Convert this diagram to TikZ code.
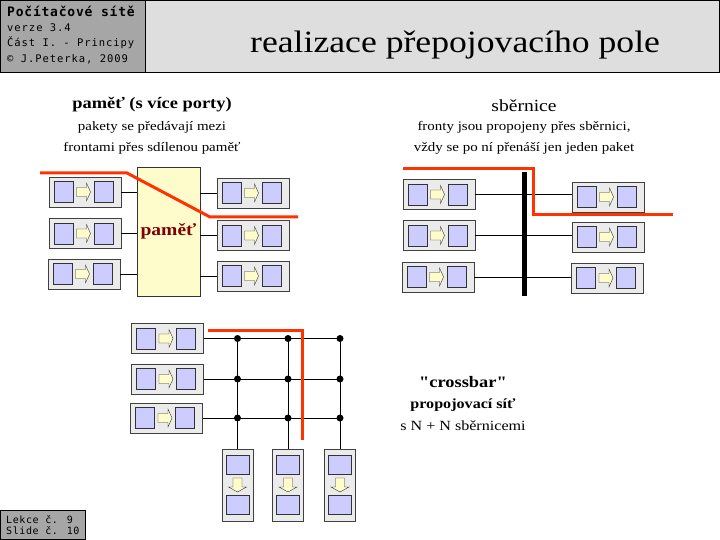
\documentclass[tikz,border=0pt]{standalone}
\usepackage{fontspec}
\setmainfont[FakeStretch=1.15]{Liberation Serif}
\newfontfamily\hlavafont[LetterSpace=6]{DejaVu Sans Mono}
\newfontfamily\infofont[LetterSpace=9]{DejaVu Sans Mono}
\newfontfamily\patafont[LetterSpace=6]{DejaVu Sans Mono}
\usetikzlibrary{positioning}
\definecolor{cesta}{RGB}{255,51,0}
\definecolor{pametcol}{RGB}{128,0,0}

% fronta vodorovne: jmeno, x, y
\newcommand{\fronta}[3]{%
\node[fronta] (#1) at (#2,#3) {};
\node[buf] (#1-a) at ({#2-21.5},#3) {};
\node[buf] (#1-b) at ({#2+18.5},#3) {};
\path[sipka,shift={(#2,#3)}] (-8.5,-4.5) -- (1.5,-4.5) -- (1.5,-9) -- (5.5,0) -- (1.5,9) -- (1.5,4.5) -- (-8.5,4.5) -- cycle;
}
% fronta svisle: jmeno, x, y
\newcommand{\frontav}[3]{%
\node[frontav] (#1) at (#2,#3) {};
\node[bufv] (#1-a) at (#2,{#3-20.5}) {};
\node[bufv] (#1-b) at (#2,{#3+19.5}) {};
\path[sipka,shift={(#2,#3)}] (-4.5,-7) -- (4.5,-7) -- (4.5,2) -- (9,2) -- (0,7) -- (-9,2) -- (-4.5,2) -- cycle;
}

\begin{document}
\begin{tikzpicture}[x=1pt,y=-1pt,
  fronta/.style={draw=black!75, fill=black!8, minimum width=72pt, minimum height=30pt, inner sep=0pt},
  frontav/.style={draw=black!75, fill=black!8, minimum width=31pt, minimum height=72pt, inner sep=0pt},
  buf/.style={draw=black!80, fill=blue!20, minimum width=19pt, minimum height=21pt, inner sep=0pt},
  bufv/.style={draw=black!80, fill=blue!20, minimum width=23pt, minimum height=19pt, inner sep=0pt},
  sipka/.style={draw=black!80, fill=yellow!20},
  spoj/.style={draw, line width=0.8pt},
  cesta/.style={draw=cesta, line width=3pt},
  uzel/.style={circle, fill, inner sep=0pt, minimum size=7pt},
  nadpis/.style={font=\fontsize{16}{19}\selectfont\bfseries},
  popis/.style={font=\fontsize{13}{21}\selectfont, align=center},
  radek/.style={anchor=base west, inner sep=0pt}]
\useasboundingbox (0,0) rectangle (720,540);

% hlavicka
\path[draw=black, fill=black!35] (0.5,0.5) rectangle (145,72);
\path[draw=black, fill=black!13] (145,0.5) rectangle (719.5,72);
\node[radek] (kurz) at (7,17) {\hlavafont\fontsize{13}{13}\selectfont\bfseries Počítačové sítě};
\node[radek] (verze) at (7,32) {\infofont\fontsize{10.5}{10.5}\selectfont verze 3.4};
\node[radek] (cast) at (7,47) {\infofont\fontsize{10.5}{10.5}\selectfont Část I. - Principy};
\node[radek] (autor) at (7,62.5) {\infofont\fontsize{10.5}{10.5}\selectfont © J.Peterka, 2009};
\node[radek] (titul) at (250,52.7) {\fontsize{31}{31}\selectfont realizace přepojovacího pole};

% pata
\path[draw=black, fill=black!35] (0.5,510) rectangle (85,539.5);
\node[radek] (lekce) at (6,523) {\patafont\fontsize{10}{10}\selectfont Lekce č. 9};
\node[radek] (slide) at (6,534) {\patafont\fontsize{10}{10}\selectfont Slide č. 10};

% pamet
\node[nadpis] (n1) at (152,105) {paměť (s více porty)};
\node[popis] (p1) at (152,138) {pakety se předávají mezi\\frontami přes sdílenou paměť};
\fronta{l1}{85}{192}
\fronta{l2}{85}{233.5}
\fronta{l3}{84}{274}
\fronta{r1}{253}{193}
\fronta{r2}{253}{235.5}
\fronta{r3}{253}{276}
\node[draw=black!80, fill=yellow!20, minimum width=63pt, minimum height=129pt, text=pametcol,
  font=\fontsize{17}{17}\selectfont\bfseries] (pamet) at (168.5,231.5) {paměť};
\foreach \i in {1,2,3} {
  \path[spoj] (l\i) -- (l\i -| pamet.west);
  \path[spoj] (r\i -| pamet.east) -- (r\i);
}
\coordinate (c1) at (40,173);
\coordinate (c2) at (127,173);
\coordinate (c3) at (210,217);
\coordinate (c4) at (298,217);
\path[cesta] (c1) -- (c2) -- (c3) -- (c4);

% sbernice
\node[font=\fontsize{17}{19}\selectfont] (n2) at (524,106) {sběrnice};
\node[popis] (p2) at (524,138) {fronty jsou propojeny přes sběrnici,\\vždy se po ní přenáší jen jeden paket};
\fronta{bl1}{439}{194.5}
\fronta{bl2}{439}{235.5}
\fronta{bl3}{438}{277}
\fronta{br1}{608}{197}
\fronta{br2}{608}{237}
\fronta{br3}{607.5}{278}
\foreach \i in {1,2,3}
  \path[spoj] (bl\i) -- (bl\i -| br\i.west);
\coordinate (bus-a) at (524,172);
\coordinate (bus-b) at (524,296);
\path[draw, line width=5pt] (bus-a) -- (bus-b);
\coordinate (s1) at (403,169);
\coordinate (s2) at (533,169);
\coordinate (s3) at (533,215);
\coordinate (s4) at (673,215);
\path[cesta] (s1) -- (s2) -- (s3) -- (s4);

% crossbar
\fronta{xl1}{167.5}{338.5}
\fronta{xl2}{167.5}{379}
\fronta{xl3}{166.5}{418}
\frontav{xd1}{237.5}{485}
\frontav{xd2}{288}{485}
\frontav{xd3}{340}{485}
\foreach \r in {1,2,3}
  \path[spoj] (xl\r) -- (xl\r -| xd3);
\foreach \s in {1,2,3}
  \path[spoj] (xd\s |- xl1) -- (xd\s.north);
\foreach \r in {1,2,3}
  \foreach \s in {1,2,3}
    \node[uzel] (u\r\s) at (xd\s |- xl\r) {};
\coordinate (k1) at (208,330);
\coordinate (k2) at (302,330);
\coordinate (k3) at (302,440);
\path[cesta] (k1) -- (k2) -- (k3);
\node[nadpis] (n3) at (463,382) {\addfontfeatures{Ligatures=TeXOff}"crossbar"};
\node[font=\fontsize{14}{14}\selectfont\bfseries] (p3) at (463,405) {propojovací síť};
\node[font=\fontsize{14}{14}\selectfont] (p4) at (463,426) {s N + N sběrnicemi};
\end{tikzpicture}
\end{document}
